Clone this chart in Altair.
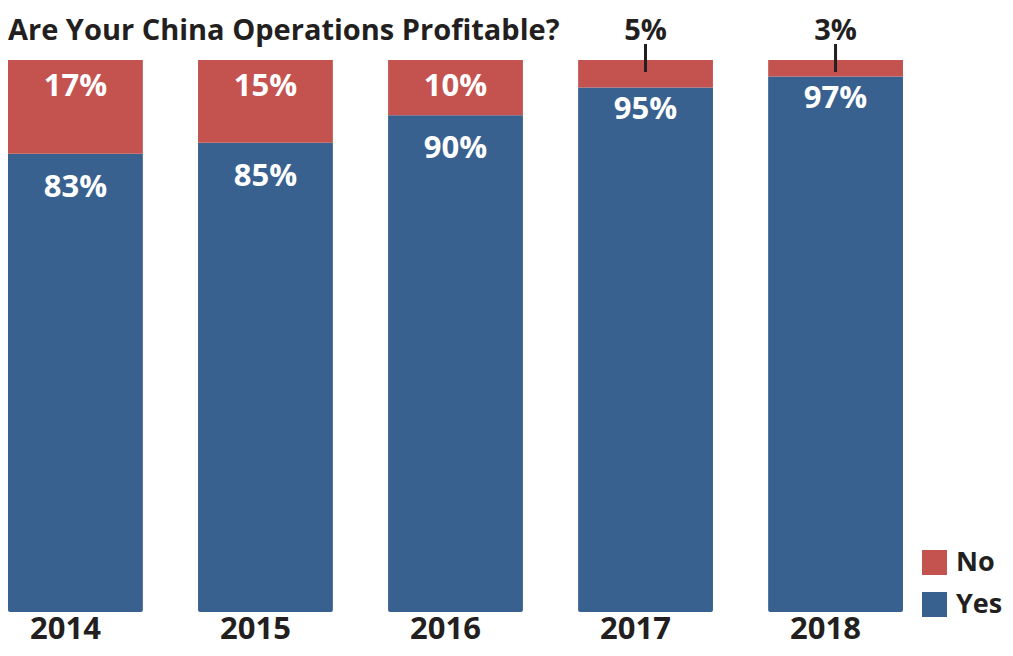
import altair as alt
import pandas as pd

title_text = ["Are Your China Operations Profitable?"]
years = ["2014", "2015", "2016", "2017", "2018"]
yes_vals = [83, 85, 90, 95, 97]
no_vals = [17, 15, 10, 5, 3]
answers = ["No", "Yes"]
colors = ["#C45350", "#386190"]
dark = "#231F20"
font = "Open Sans"

rows = []
for y, a, b in zip(years, yes_vals, no_vals):
    rows.append({"year": y, "answer": "Yes", "value": a, "ord": 0})
    rows.append({"year": y, "answer": "No", "value": b, "ord": 1})
long_df = pd.DataFrame(rows)

wide_df = pd.DataFrame({
    "year": years,
    "yes": yes_vals,
    "no": no_vals,
})
wide_df["total"] = wide_df["yes"] + wide_df["no"]
wide_df["yes_lbl"] = [f"{v}%" for v in yes_vals]
wide_df["no_lbl"] = [f"{v}%" for v in no_vals]

xenc = alt.X(
    "year:N",
    sort=years,
    scale=alt.Scale(paddingInner=0.29, paddingOuter=0),
    axis=alt.Axis(
        title=None, labelAngle=0, domain=False, ticks=False, tickSize=0,
        grid=False,
        labelFontSize=31, labelFontWeight="bold", labelColor=dark,
        labelFont=font, labelPadding=26, labelBaseline="alphabetic",
        labelOffset=-10,
    ),
)
yscale = alt.Scale(domain=[0, 100], nice=False, zero=True)

bars = alt.Chart(long_df).mark_bar(cornerRadiusBottomLeft=2, cornerRadiusBottomRight=2).encode(
    x=xenc,
    y=alt.Y("value:Q", stack="zero", scale=yscale, axis=None),
    color=alt.Color(
        "answer:N",
        scale=alt.Scale(domain=answers, range=colors),
        legend=alt.Legend(
            title=None, orient="none", legendX=913, legendY=489,
            symbolType="square", symbolSize=625, symbolStrokeWidth=0,
            symbolOpacity=1, labelFontSize=27, labelFontWeight="bold",
            labelColor=dark, labelFont=font, rowPadding=14, labelOffset=8,
            padding=0,
        ),
    ),
    order=alt.Order("ord:Q", sort="ascending"),
)

base = alt.Chart(wide_df).encode(x=alt.X("year:N", sort=years))

no_inside = base.transform_filter("datum.no >= 10").mark_text(
    color="white", fontSize=31, fontWeight="bold", font=font,
    baseline="alphabetic", dy=36,
).encode(y=alt.Y("total:Q", scale=yscale), text="no_lbl:N")

yes_big = base.transform_filter("datum.no >= 10").mark_text(
    color="white", fontSize=31, fontWeight="bold", font=font,
    baseline="alphabetic", dy=43,
).encode(y=alt.Y("yes:Q", scale=yscale), text="yes_lbl:N")

yes_small = base.transform_filter("datum.no < 10").mark_text(
    color="white", fontSize=31, fontWeight="bold", font=font,
    baseline="alphabetic", dy=31,
).encode(y=alt.Y("yes:Q", scale=yscale), text="yes_lbl:N")

no_outside = base.transform_filter("datum.no < 10").mark_text(
    color=dark, fontSize=29, fontWeight="bold", font=font,
    baseline="alphabetic", dy=-20,
).encode(y=alt.Y("total:Q", scale=yscale), text="no_lbl:N")

leader = base.transform_filter("datum.no < 10").mark_rule(
    color=dark, strokeWidth=3, yOffset=-16, y2Offset=12,
).encode(y=alt.Y("total:Q", scale=yscale), y2="total:Q")

title_mark = alt.Chart(pd.DataFrame({"t": title_text})).mark_text(
    color=dark, fontSize=29, fontWeight="bold", font=font,
    align="left", baseline="alphabetic",
).encode(x=alt.value(0), y=alt.value(-20), text="t:N")

chart = alt.layer(
    bars, no_inside, yes_big, yes_small, leader, no_outside, title_mark
).properties(
    width=895,
    height=552,
    autosize=alt.AutoSizeParams(type="none"),
    padding={"left": 0, "top": 52, "right": 102, "bottom": 36},
).configure(
    font=font, background="white",
    view=alt.ViewConfig(stroke=None, strokeWidth=0),
)

chart.save("out.html", embed_options={"renderer": "svg", "actions": False})
